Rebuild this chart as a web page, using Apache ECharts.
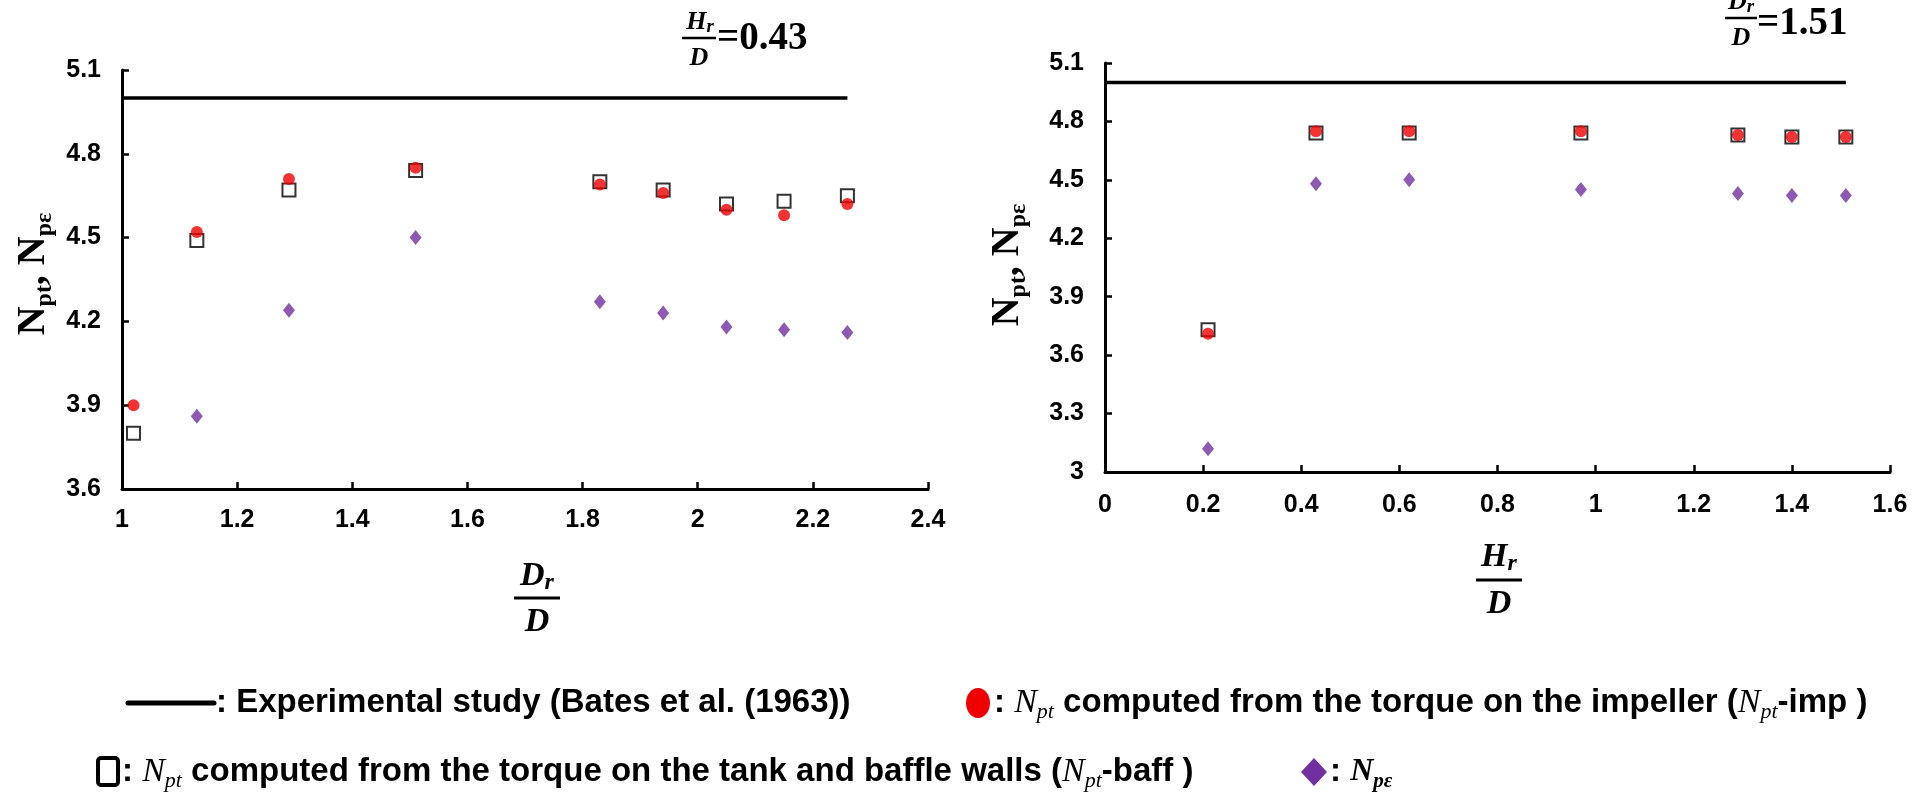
<!DOCTYPE html>
<html>
<head>
<meta charset="utf-8">
<script src="https://cdn.jsdelivr.net/npm/echarts@6/dist/echarts.min.js"></script>
<style>
html, body { margin: 0; background: #fff; }
#main { width: 1915px; height: 800px; }
</style>
</head>
<body>
<div id="main"></div>
<script>
// left panel (Hr/D = 0.43), x = Dr/D
var drD = [1.02, 1.13, 1.29, 1.51, 1.83, 1.94, 2.05, 2.15, 2.26];
var impLeft = [3.90, 4.52, 4.71, 4.75, 4.69, 4.66, 4.60, 4.58, 4.62];
var baffLeft = [3.80, 4.49, 4.67, 4.74, 4.70, 4.67, 4.62, 4.63, 4.65];
var npeLeft = [null, 3.86, 4.24, 4.50, 4.27, 4.23, 4.18, 4.17, 4.16];
var expLeftX = [1, 2.26];

// right panel (Dr/D = 1.51), x = Hr/D
var hrD = [0.21, 0.43, 0.62, 0.97, 1.29, 1.40, 1.51];
var impRight = [3.71, 4.75, 4.75, 4.75, 4.73, 4.72, 4.72];
var baffRight = [3.73, 4.74, 4.74, 4.74, 4.73, 4.72, 4.72];
var npeRight = [3.12, 4.48, 4.50, 4.45, 4.43, 4.42, 4.42];
var expRightX = [0, 1.51];

var expValue = 5.0; // Bates et al. (1963)

var sans = 'Liberation Sans, Arial, sans-serif';
var serif = 'Liberation Serif, Times New Roman, serif';

function pairs(xs, ys) {
    var res = [];
    for (var i = 0; i < xs.length; i++) {
        if (ys[i] != null) res.push([xs[i], ys[i]]);
    }
    return res;
}
function flat(xs) {
    return xs.map(function (x) { return [x, expValue]; });
}

function xAxisOf(idx, min, max, margin) {
    return {
        type: 'value', gridIndex: idx, min: min, max: max, interval: 0.2,
        axisLine: { show: true, onZero: false, lineStyle: { color: '#000', width: 3 } },
        axisTick: { show: true, inside: true, length: 7, lineStyle: { color: '#000', width: 2.5 } },
        axisLabel: { color: '#000', fontWeight: 'bold', fontSize: 25, fontFamily: sans, margin: margin },
        splitLine: { show: false }
    };
}
function yAxisOf(idx, min) {
    return {
        type: 'value', gridIndex: idx, min: min, max: 5.1, interval: 0.3,
        axisLine: { show: true, onZero: false, lineStyle: { color: '#000', width: 3 } },
        axisTick: { show: true, inside: true, length: 7, lineStyle: { color: '#000', width: 2.5 } },
        axisLabel: { color: '#000', fontWeight: 'bold', fontSize: 25, fontFamily: sans, margin: 21 },
        splitLine: { show: false }
    };
}

function panelSeries(idx, xs, imp, baff, npe, expX) {
    return [{
        type: 'line', xAxisIndex: idx, yAxisIndex: idx,
        data: flat(expX), symbol: 'none',
        lineStyle: { color: '#000', width: 3.5 }
    }, {
        type: 'scatter', xAxisIndex: idx, yAxisIndex: idx,
        data: pairs(xs, baff), symbol: 'rect', symbolSize: 13,
        itemStyle: { color: '#fff', borderColor: '#000', borderWidth: 2 }
    }, {
        type: 'scatter', xAxisIndex: idx, yAxisIndex: idx,
        data: pairs(xs, imp), symbol: 'circle', symbolSize: 12,
        itemStyle: { color: '#f00000' }
    }, {
        type: 'scatter', xAxisIndex: idx, yAxisIndex: idx,
        data: pairs(xs, npe), symbol: 'diamond', symbolSize: [12, 15],
        itemStyle: { color: '#7030a0' }
    }];
}

function txt(x, y, text, rich, align, rot) {
    return {
        type: 'text', x: x, y: y, rotation: rot || 0,
        style: {
            text: text, rich: rich, fill: '#000',
            align: align || 'center', textAlign: align || 'center',
            verticalAlign: 'middle', textVerticalAlign: 'middle'
        }
    };
}
function hline(x1, x2, y, w) {
    return { type: 'line', shape: { x1: x1, y1: y, x2: x2, y2: y }, style: { stroke: '#000', lineWidth: w } };
}

var fracRich = function (size) {
    return {
        v: { fontFamily: serif, fontWeight: 'bold', fontStyle: 'italic', fontSize: size, lineHeight: size + 4, fill: '#000' },
        s: { fontFamily: serif, fontWeight: 'bold', fontStyle: 'italic', fontSize: Math.round(size * 0.72), verticalAlign: 'bottom', fill: '#000' },
        n: { fontFamily: serif, fontWeight: 'bold', fontSize: 39, fill: '#000' }
    };
};
var titleRich = {
    n: { fontFamily: serif, fontWeight: 'bold', fontSize: 40, lineHeight: 46, fill: '#000' },
    s: { fontFamily: serif, fontWeight: 'bold', fontSize: 24, verticalAlign: 'bottom', fill: '#000' }
};
var legRich = {
    b: { fontFamily: sans, fontWeight: 'bold', fontSize: 33, lineHeight: 40, fill: '#000' },
    m: { fontFamily: serif, fontStyle: 'italic', fontSize: 34, lineHeight: 40, fill: '#000' },
    s: { fontFamily: serif, fontStyle: 'italic', fontSize: 22, verticalAlign: 'bottom', fill: '#000' },
    mb: { fontFamily: serif, fontStyle: 'italic', fontWeight: 'bold', fontSize: 32, lineHeight: 40, fill: '#000' },
    sb: { fontFamily: serif, fontStyle: 'italic', fontWeight: 'bold', fontSize: 21, verticalAlign: 'bottom', fill: '#000' }
};

var graphics = [
    // y axis titles
    txt(34, 274, '{n|N}{s|pt}{n|, N}{s|pε}', titleRich, 'center', Math.PI / 2),
    txt(1008, 265, '{n|N}{s|pt}{n|, N}{s|pε}', titleRich, 'center', Math.PI / 2),
    // x axis titles
    txt(537, 576, '{v|D}{s|r}', fracRich(34)),
    hline(514, 560, 598, 3),
    txt(537, 622, '{v|D}', fracRich(34)),
    txt(1499, 557, '{v|H}{s|r}', fracRich(34)),
    hline(1476, 1522, 580, 3),
    txt(1499, 604, '{v|D}', fracRich(34)),
    // panel annotations
    txt(700, 22, '{v|H}{s|r}', fracRich(26)),
    hline(682, 716, 38, 2.5),
    txt(699, 58, '{v|D}', fracRich(26)),
    txt(717, 39, '{n|=0.43}', fracRich(26), 'left'),
    txt(1741, 2, '{v|D}{s|r}', fracRich(26)),
    hline(1725, 1757, 18, 2.5),
    txt(1741, 38, '{v|D}', fracRich(26)),
    txt(1757, 24, '{n|=1.51}', fracRich(26), 'left'),
    // legend
    { type: 'line', shape: { x1: 128, y1: 703, x2: 214, y2: 703 }, style: { stroke: '#000', lineWidth: 5, lineCap: 'round' } },
    txt(216, 703, '{b|: Experimental study (Bates et al. (1963))}', legRich, 'left'),
    { type: 'ellipse', shape: { cx: 978, cy: 703, rx: 12, ry: 15 }, style: { fill: '#f00000' } },
    txt(994, 703, '{b|: }{m|N}{s|pt}{b| computed from the torque on the impeller (}{m|N}{s|pt}{b|-imp )}', legRich, 'left'),
    { type: 'rect', shape: { x: 98, y: 758, width: 20, height: 27, r: 3 }, style: { fill: '#fff', stroke: '#000', lineWidth: 4 } },
    txt(122, 772, '{b|: }{m|N}{s|pt}{b| computed from the torque on the tank and baffle walls (}{m|N}{s|pt}{b|-baff )}', legRich, 'left'),
    { type: 'polygon', shape: { points: [[1314, 758], [1327, 772], [1314, 786], [1301, 772]] }, style: { fill: '#7030a0' } },
    txt(1330, 772, '{b|: }{mb|N}{sb|pε}', legRich, 'left')
];

var chart = echarts.init(document.getElementById('main'));
chart.setOption({
    backgroundColor: '#fff',
    animation: false,
    grid: [
        { left: 122, top: 70, width: 806, height: 419 },
        { left: 1105, top: 63, width: 785, height: 409 }
    ],
    xAxis: [xAxisOf(0, 1, 2.4, 19), xAxisOf(1, 0, 1.6, 21)],
    yAxis: [yAxisOf(0, 3.6), yAxisOf(1, 3)],
    series: panelSeries(0, drD, impLeft, baffLeft, npeLeft, expLeftX)
        .concat(panelSeries(1, hrD, impRight, baffRight, npeRight, expRightX)),
    graphic: graphics
});
</script>
</body>
</html>
